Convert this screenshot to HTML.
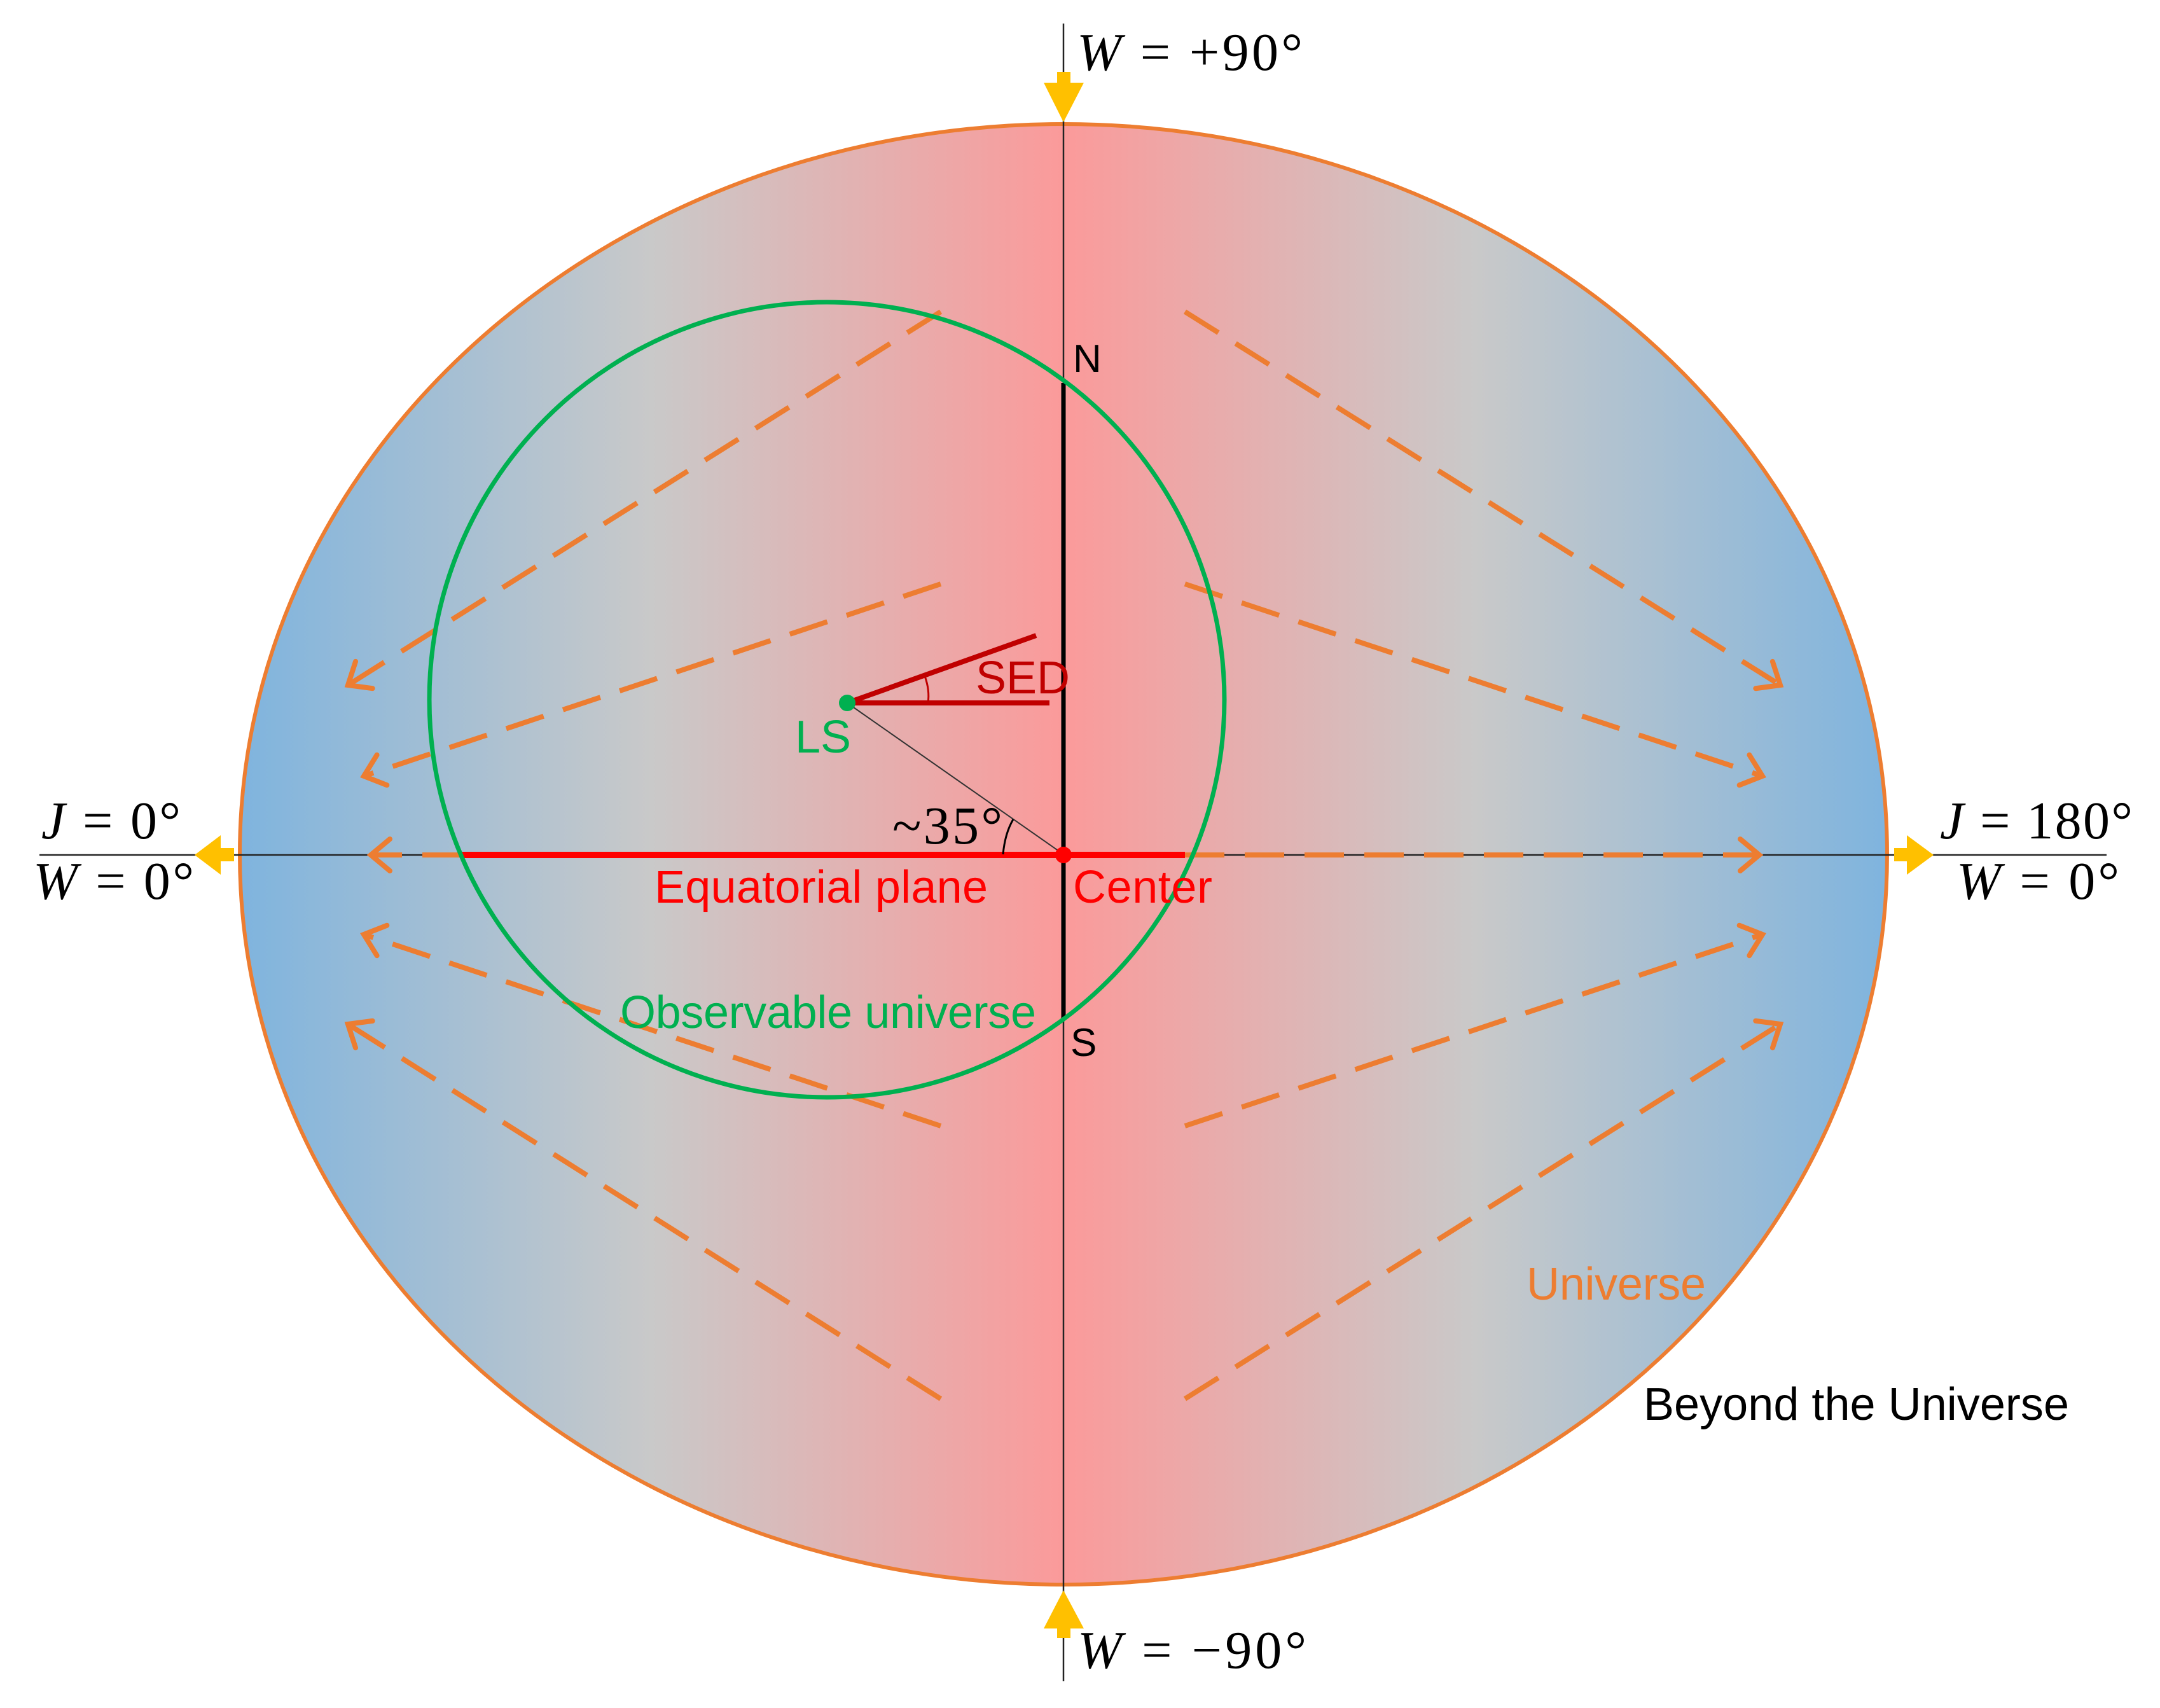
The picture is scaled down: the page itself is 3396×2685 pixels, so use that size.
<!DOCTYPE html>
<html><head><meta charset="utf-8"><style>html,body{margin:0;padding:0;background:#fff}svg{display:block}</style></head>
<body>
<svg width="3396" height="2685" viewBox="0 0 3396 2685" xmlns="http://www.w3.org/2000/svg">
<defs>
<linearGradient id="g" x1="377" y1="0" x2="2967" y2="0" gradientUnits="userSpaceOnUse">
<stop offset="0" stop-color="#7fb4de"/>
<stop offset="0.25" stop-color="#c9c9c9"/>
<stop offset="0.5" stop-color="#fb9a9a"/>
<stop offset="0.75" stop-color="#c9c9c9"/>
<stop offset="1" stop-color="#7fb4de"/>
</linearGradient>
<marker id="a" markerUnits="userSpaceOnUse" markerWidth="80" markerHeight="80" refX="40" refY="40" orient="auto">
<path d="M10,15 L40,40 L10,65" fill="none" stroke="#ed7d31" stroke-width="8" stroke-linecap="round"/>
</marker>
</defs>
<ellipse cx="1672" cy="1343" rx="1295" ry="1148" fill="url(#g)" stroke="#ed7d31" stroke-width="6"/>
<line x1="1672" y1="37" x2="1672" y2="2643" stroke="#222" stroke-width="2.5"/>
<line x1="62" y1="1344" x2="3312" y2="1344" stroke="#222" stroke-width="2.5"/>
<polygon fill="#ffc000" points="1662,113 1683,113 1683,130 1704,130 1672,192 1641,130 1662,130"/>
<polygon fill="#ffc000" points="1662,2575 1683,2575 1683,2560 1704,2560 1672,2500 1641,2560 1662,2560"/>
<polygon fill="#ffc000" points="368,1333 368,1354 347,1354 347,1375 306,1344 347,1313 347,1333"/>
<polygon fill="#ffc000" points="2978,1333 2978,1354 2998,1354 2998,1375 3040,1344 2998,1313 2998,1333"/>
<g stroke="#ed7d31" stroke-width="8" fill="none" stroke-dasharray="62,32" marker-end="url(#a)">
<line x1="1479" y1="490" x2="547" y2="1077"/>
<line x1="1479" y1="918" x2="572" y2="1220"/>
<line x1="726" y1="1344" x2="583" y2="1344"/>
<line x1="1479" y1="1770" x2="572" y2="1469"/>
<line x1="1479" y1="2199" x2="547" y2="1610"/>
<line x1="1863" y1="490" x2="2799" y2="1077"/>
<line x1="1863" y1="918" x2="2771" y2="1220"/>
<line x1="1863" y1="1344" x2="2766" y2="1344"/>
<line x1="1863" y1="1770" x2="2771" y2="1469"/>
<line x1="1863" y1="2199" x2="2799" y2="1610"/>
</g>
<line x1="726" y1="1344" x2="1863" y2="1344" stroke="#ff0000" stroke-width="10"/>
<line x1="1672" y1="602" x2="1672" y2="1603" stroke="#000" stroke-width="7"/>
<circle cx="1300" cy="1100" r="625" fill="none" stroke="#00b050" stroke-width="7"/>
<line x1="1332" y1="1105" x2="1672" y2="1343" stroke="#333" stroke-width="2"/>
<line x1="1332" y1="1105" x2="1629" y2="999" stroke="#c00000" stroke-width="8"/>
<line x1="1332" y1="1105" x2="1650" y2="1105" stroke="#c00000" stroke-width="8"/>
<path d="M1454,1063 Q1462,1085 1459,1105" fill="none" stroke="#c00000" stroke-width="3"/>
<path d="M1593,1288 Q1580,1310 1577,1343" fill="none" stroke="#000" stroke-width="3"/>
<circle cx="1332" cy="1105" r="13" fill="#00b050"/>
<circle cx="1672" cy="1344" r="13" fill="#ff0000"/>
<g font-family="'Liberation Sans', sans-serif" font-size="72" lengthAdjust="spacing">
<text x="1687" y="585" fill="#000" font-size="62">N</text>
<text x="1683" y="1660" fill="#000" font-size="62">S</text>
<text x="1534" y="1090" fill="#c00000">SED</text>
<text x="1250" y="1183" fill="#00b050">LS</text>
<text x="1029" y="1419" fill="#ff0000" textLength="524">Equatorial plane</text>
<text x="1687" y="1419" fill="#ff0000" textLength="219">Center</text>
<text x="975" y="1616" fill="#00b050" textLength="654">Observable universe</text>
<text x="2400" y="2043" fill="#ed7d31" textLength="282">Universe</text>
<text x="2584" y="2232" fill="#000" textLength="669">Beyond the Universe</text>
</g>
<g font-family="'Liberation Serif', serif" font-size="84" fill="#000" lengthAdjust="spacing">
<text x="1403" y="1326" textLength="173">~35°</text>
<text x="1693" y="110" textLength="355"><tspan font-style="italic">W</tspan> = +90°</text>
<text x="1694" y="2622" textLength="360"><tspan font-style="italic">W</tspan> = −90°</text>
<text x="65" y="1318" textLength="219"><tspan font-style="italic">J</tspan> = 0°</text>
<text x="52" y="1413" textLength="253"><tspan font-style="italic">W</tspan> = 0°</text>
<text x="3050" y="1318" textLength="303"><tspan font-style="italic">J</tspan> = 180°</text>
<text x="3076" y="1413" textLength="256"><tspan font-style="italic">W</tspan> = 0°</text>
</g>
</svg>
</body></html>
